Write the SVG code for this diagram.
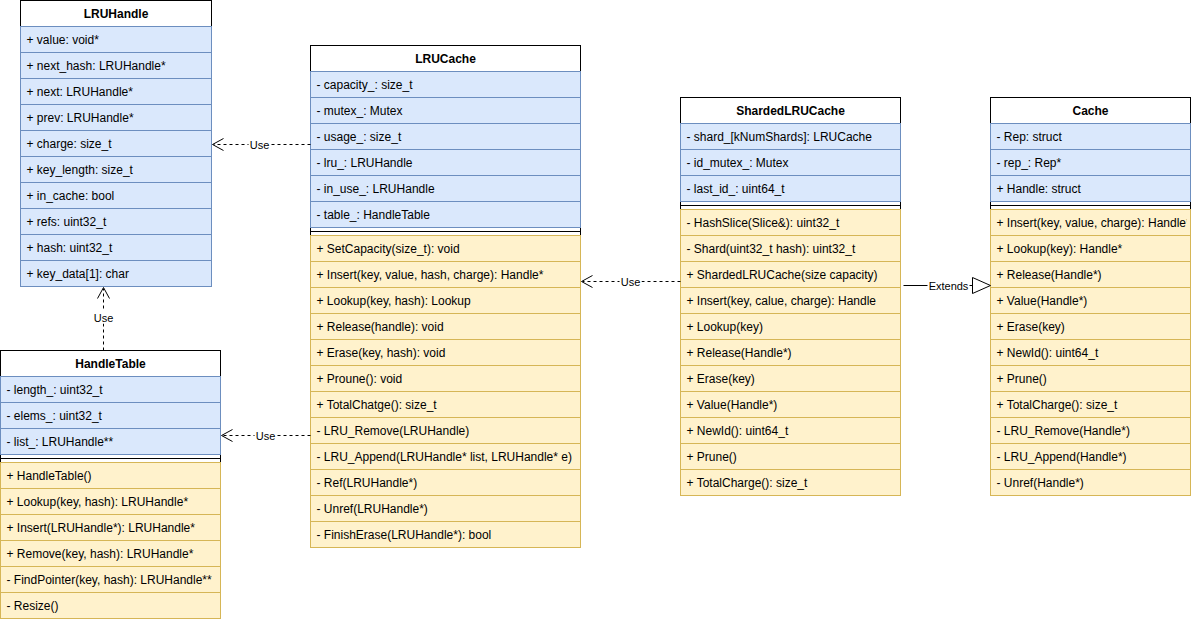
<svg xmlns="http://www.w3.org/2000/svg" width="1191" height="622" viewBox="0 0 1191 622">
<style>
.box{fill:#ffffff;stroke:#000000;stroke-width:1}
.attr{fill:#dae8fc;stroke:#6c8ebf;stroke-width:1}
.meth{fill:#fff2cc;stroke:#d6b656;stroke-width:1}
.sep{stroke:#000000;stroke-width:1}
.title{font-family:"Liberation Sans",Arial,sans-serif;font-size:12px;font-weight:bold;fill:#000000;text-anchor:middle}
.t{font-family:"Liberation Sans",Arial,sans-serif;font-size:12px;fill:#000000}
.edge{fill:none;stroke:#000000;stroke-width:1}
.dash{stroke-dasharray:3 3}
.lbl{font-family:"Liberation Sans",Arial,sans-serif;font-size:11px;fill:#000000;text-anchor:middle}
.lblbg{fill:#ffffff;stroke:none}
</style>
<defs>
<clipPath id="cacheClip"><rect x="990" y="209" width="196" height="26"/></clipPath>
</defs>
<g transform="translate(0.5,0.5)">
<!-- LRUHandle -->
<g id="LRUHandle">
<rect class="box" x="20" y="0" width="191" height="286"/>
<text class="title" x="115.5" y="17">LRUHandle</text>
<rect class="attr" x="20" y="26" width="191" height="26"/><text class="t" x="26" y="43.5">+ value: void*</text>
<rect class="attr" x="20" y="52" width="191" height="26"/><text class="t" x="26" y="69.5">+ next_hash: LRUHandle*</text>
<rect class="attr" x="20" y="78" width="191" height="26"/><text class="t" x="26" y="95.5">+ next: LRUHandle*</text>
<rect class="attr" x="20" y="104" width="191" height="26"/><text class="t" x="26" y="121.5">+ prev: LRUHandle*</text>
<rect class="attr" x="20" y="130" width="191" height="26"/><text class="t" x="26" y="147.5">+ charge: size_t</text>
<rect class="attr" x="20" y="156" width="191" height="26"/><text class="t" x="26" y="173.5">+ key_length: size_t</text>
<rect class="attr" x="20" y="182" width="191" height="26"/><text class="t" x="26" y="199.5">+ in_cache: bool</text>
<rect class="attr" x="20" y="208" width="191" height="26"/><text class="t" x="26" y="225.5">+ refs: uint32_t</text>
<rect class="attr" x="20" y="234" width="191" height="26"/><text class="t" x="26" y="251.5">+ hash: uint32_t</text>
<rect class="attr" x="20" y="260" width="191" height="26"/><text class="t" x="26" y="277.5">+ key_data[1]: char</text>
</g>
<!-- HandleTable -->
<g id="HandleTable">
<rect class="box" x="0" y="350" width="220" height="268"/>
<text class="title" x="110" y="367">HandleTable</text>
<rect class="attr" x="0" y="376" width="220" height="26"/><text class="t" x="6" y="393.5">- length_: uint32_t</text>
<rect class="attr" x="0" y="402" width="220" height="26"/><text class="t" x="6" y="419.5">- elems_: uint32_t</text>
<rect class="attr" x="0" y="428" width="220" height="26"/><text class="t" x="6" y="445.5">- list_: LRUHandle**</text>
<line class="sep" x1="0" y1="458" x2="220" y2="458"/>
<rect class="meth" x="0" y="462" width="220" height="26"/><text class="t" x="6" y="479.5">+ HandleTable()</text>
<rect class="meth" x="0" y="488" width="220" height="26"/><text class="t" x="6" y="505.5">+ Lookup(key, hash): LRUHandle*</text>
<rect class="meth" x="0" y="514" width="220" height="26"/><text class="t" x="6" y="531.5">+ Insert(LRUHandle*): LRUHandle*</text>
<rect class="meth" x="0" y="540" width="220" height="26"/><text class="t" x="6" y="557.5">+ Remove(key, hash): LRUHandle*</text>
<rect class="meth" x="0" y="566" width="220" height="26"/><text class="t" x="6" y="583.5">- FindPointer(key, hash): LRUHandle**</text>
<rect class="meth" x="0" y="592" width="220" height="26"/><text class="t" x="6" y="609.5">- Resize()</text>
</g>
<!-- LRUCache -->
<g id="LRUCache">
<rect class="box" x="310" y="45" width="270" height="502"/>
<text class="title" x="445" y="62">LRUCache</text>
<rect class="attr" x="310" y="71" width="270" height="26"/><text class="t" x="316" y="88.5">- capacity_: size_t</text>
<rect class="attr" x="310" y="97" width="270" height="26"/><text class="t" x="316" y="114.5">- mutex_: Mutex</text>
<rect class="attr" x="310" y="123" width="270" height="26"/><text class="t" x="316" y="140.5">- usage_: size_t</text>
<rect class="attr" x="310" y="149" width="270" height="26"/><text class="t" x="316" y="166.5">- lru_: LRUHandle</text>
<rect class="attr" x="310" y="175" width="270" height="26"/><text class="t" x="316" y="192.5">- in_use_: LRUHandle</text>
<rect class="attr" x="310" y="201" width="270" height="26"/><text class="t" x="316" y="218.5">- table_: HandleTable</text>
<line class="sep" x1="310" y1="231" x2="580" y2="231"/>
<rect class="meth" x="310" y="235" width="270" height="26"/><text class="t" x="316" y="252.5">+ SetCapacity(size_t): void</text>
<rect class="meth" x="310" y="261" width="270" height="26"/><text class="t" x="316" y="278.5">+ Insert(key, value, hash, charge): Handle*</text>
<rect class="meth" x="310" y="287" width="270" height="26"/><text class="t" x="316" y="304.5">+ Lookup(key, hash): Lookup</text>
<rect class="meth" x="310" y="313" width="270" height="26"/><text class="t" x="316" y="330.5">+ Release(handle): void</text>
<rect class="meth" x="310" y="339" width="270" height="26"/><text class="t" x="316" y="356.5">+ Erase(key, hash): void</text>
<rect class="meth" x="310" y="365" width="270" height="26"/><text class="t" x="316" y="382.5">+ Proune(): void</text>
<rect class="meth" x="310" y="391" width="270" height="26"/><text class="t" x="316" y="408.5">+ TotalChatge(): size_t</text>
<rect class="meth" x="310" y="417" width="270" height="26"/><text class="t" x="316" y="434.5">- LRU_Remove(LRUHandle)</text>
<rect class="meth" x="310" y="443" width="270" height="26"/><text class="t" x="316" y="460.5">- LRU_Append(LRUHandle* list, LRUHandle* e)</text>
<rect class="meth" x="310" y="469" width="270" height="26"/><text class="t" x="316" y="486.5">- Ref(LRUHandle*)</text>
<rect class="meth" x="310" y="495" width="270" height="26"/><text class="t" x="316" y="512.5">- Unref(LRUHandle*)</text>
<rect class="meth" x="310" y="521" width="270" height="26"/><text class="t" x="316" y="538.5">- FinishErase(LRUHandle*): bool</text>
</g>
<!-- ShardedLRUCache -->
<g id="ShardedLRUCache">
<rect class="box" x="680" y="97" width="220" height="398"/>
<text class="title" x="790" y="114">ShardedLRUCache</text>
<rect class="attr" x="680" y="123" width="220" height="26"/><text class="t" x="686" y="140.5">- shard_[kNumShards]: LRUCache</text>
<rect class="attr" x="680" y="149" width="220" height="26"/><text class="t" x="686" y="166.5">- id_mutex_: Mutex</text>
<rect class="attr" x="680" y="175" width="220" height="26"/><text class="t" x="686" y="192.5">- last_id_: uint64_t</text>
<line class="sep" x1="680" y1="205" x2="900" y2="205"/>
<rect class="meth" x="680" y="209" width="220" height="26"/><text class="t" x="686" y="226.5">- HashSlice(Slice&amp;): uint32_t</text>
<rect class="meth" x="680" y="235" width="220" height="26"/><text class="t" x="686" y="252.5">- Shard(uint32_t hash): uint32_t</text>
<rect class="meth" x="680" y="261" width="220" height="26"/><text class="t" x="686" y="278.5">+ ShardedLRUCache(size capacity)</text>
<rect class="meth" x="680" y="287" width="220" height="26"/><text class="t" x="686" y="304.5">+ Insert(key, calue, charge): Handle</text>
<rect class="meth" x="680" y="313" width="220" height="26"/><text class="t" x="686" y="330.5">+ Lookup(key)</text>
<rect class="meth" x="680" y="339" width="220" height="26"/><text class="t" x="686" y="356.5">+ Release(Handle*)</text>
<rect class="meth" x="680" y="365" width="220" height="26"/><text class="t" x="686" y="382.5">+ Erase(key)</text>
<rect class="meth" x="680" y="391" width="220" height="26"/><text class="t" x="686" y="408.5">+ Value(Handle*)</text>
<rect class="meth" x="680" y="417" width="220" height="26"/><text class="t" x="686" y="434.5">+ NewId(): uint64_t</text>
<rect class="meth" x="680" y="443" width="220" height="26"/><text class="t" x="686" y="460.5">+ Prune()</text>
<rect class="meth" x="680" y="469" width="220" height="26"/><text class="t" x="686" y="486.5">+ TotalCharge(): size_t</text>
</g>
<!-- Cache -->
<g id="Cache">
<rect class="box" x="990" y="97" width="200" height="398"/>
<text class="title" x="1090" y="114">Cache</text>
<rect class="attr" x="990" y="123" width="200" height="26"/><text class="t" x="996" y="140.5">- Rep: struct</text>
<rect class="attr" x="990" y="149" width="200" height="26"/><text class="t" x="996" y="166.5">- rep_: Rep*</text>
<rect class="attr" x="990" y="175" width="200" height="26"/><text class="t" x="996" y="192.5">+ Handle: struct</text>
<line class="sep" x1="990" y1="205" x2="1190" y2="205"/>
<rect class="meth" x="990" y="209" width="200" height="26"/><text class="t" x="996" y="226.5" clip-path="url(#cacheClip)">+ Insert(key, value, charge): Handle*</text>
<rect class="meth" x="990" y="235" width="200" height="26"/><text class="t" x="996" y="252.5">+ Lookup(key): Handle*</text>
<rect class="meth" x="990" y="261" width="200" height="26"/><text class="t" x="996" y="278.5">+ Release(Handle*)</text>
<rect class="meth" x="990" y="287" width="200" height="26"/><text class="t" x="996" y="304.5">+ Value(Handle*)</text>
<rect class="meth" x="990" y="313" width="200" height="26"/><text class="t" x="996" y="330.5">+ Erase(key)</text>
<rect class="meth" x="990" y="339" width="200" height="26"/><text class="t" x="996" y="356.5">+ NewId(): uint64_t</text>
<rect class="meth" x="990" y="365" width="200" height="26"/><text class="t" x="996" y="382.5">+ Prune()</text>
<rect class="meth" x="990" y="391" width="200" height="26"/><text class="t" x="996" y="408.5">+ TotalCharge(): size_t</text>
<rect class="meth" x="990" y="417" width="200" height="26"/><text class="t" x="996" y="434.5">- LRU_Remove(Handle*)</text>
<rect class="meth" x="990" y="443" width="200" height="26"/><text class="t" x="996" y="460.5">- LRU_Append(Handle*)</text>
<rect class="meth" x="990" y="469" width="200" height="26"/><text class="t" x="996" y="486.5">- Unref(Handle*)</text>
</g>
<!-- Connectors -->
<g id="connectors">
<g id="e-lrucache-lruhandle">
<line class="edge dash" x1="310" y1="144" x2="213" y2="144"/>
<path class="edge" d="M223,138 L212,144 L223,150"/>
<rect class="lblbg" x="248" y="137" width="22" height="13"/>
<text class="lbl" x="259" y="148">Use</text>
</g>
<g id="e-handletable-lruhandle">
<line class="edge dash" x1="103" y1="350" x2="103" y2="288"/>
<path class="edge" d="M97,298 L103,287 L109,298"/>
<rect class="lblbg" x="92" y="310" width="22" height="13"/>
<text class="lbl" x="103" y="321">Use</text>
</g>
<g id="e-lrucache-handletable">
<line class="edge dash" x1="310" y1="435" x2="222" y2="435"/>
<path class="edge" d="M232,429 L221,435 L232,441"/>
<rect class="lblbg" x="254" y="428" width="22" height="13"/>
<text class="lbl" x="265" y="439">Use</text>
</g>
<g id="e-sharded-lrucache">
<line class="edge dash" x1="680" y1="281" x2="582" y2="281"/>
<path class="edge" d="M592,275 L581,281 L592,287"/>
<rect class="lblbg" x="619" y="274" width="22" height="13"/>
<text class="lbl" x="630" y="285">Use</text>
</g>
<g id="e-sharded-cache">
<line class="edge" x1="903" y1="285" x2="972" y2="285"/>
<path d="M972,277 L990,285 L972,293 Z" fill="#ffffff" stroke="#000000" stroke-width="1"/>
<rect class="lblbg" x="927" y="278" width="42" height="13"/>
<text class="lbl" x="948" y="289">Extends</text>
</g>
</g>
</g>
</svg>
